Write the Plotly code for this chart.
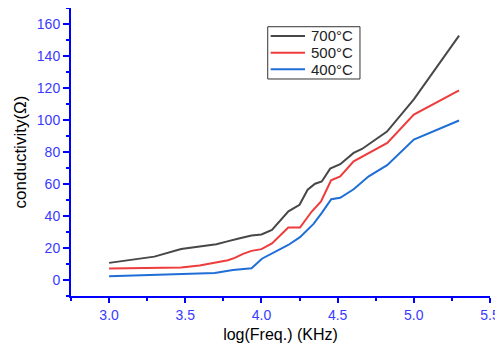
import plotly.graph_objects as go

# 700°C series
x_700 = [3.0, 3.297, 3.473, 3.594, 3.704, 3.770, 3.825, 3.858, 3.935, 4.0, 4.069, 4.177,
         4.250, 4.303, 4.352, 4.396, 4.451, 4.517, 4.605, 4.660, 4.824, 5.0, 5.297]
y_700 = [10.7, 14.6, 19.4, 20.9, 22.4, 24.0, 25.5, 26.1, 27.8, 28.5, 31.3, 42.9,
         47.0, 56.4, 60.2, 61.6, 69.6, 72.4, 79.4, 81.9, 92.8, 112.9, 152.7]

# 500°C series
x_500 = [3.0, 3.297, 3.473, 3.594, 3.704, 3.780, 3.825, 3.879, 3.935, 4.0, 4.069, 4.176,
         4.253, 4.330, 4.391, 4.457, 4.517, 4.605, 4.826, 5.0, 5.297]
y_500 = [7.2, 7.3, 7.8, 9.1, 11.0, 12.4, 13.8, 16.3, 18.2, 19.3, 22.9, 32.8,
         32.8, 42.8, 49.1, 62.3, 64.8, 74.2, 85.7, 103.4, 118.5]

# 400°C series
x_400 = [3.0, 3.297, 3.473, 3.693, 3.813, 3.935, 4.003, 4.176, 4.253, 4.342, 4.396,
         4.458, 4.517, 4.605, 4.704, 4.825, 5.0, 5.297]
y_400 = [2.4, 3.2, 3.8, 4.4, 6.3, 7.3, 13.3, 21.9, 26.8, 35.1, 42.0,
         50.5, 51.4, 56.7, 64.8, 71.8, 87.8, 99.7]

series_names = ["700°C", "500°C", "400°C"]
series_colors = ["#474747", "#ee3b3b", "#1f6ed6"]
series_x = [x_700, x_500, x_400]
series_y = [y_700, y_500, y_400]

fig = go.Figure()
for name, xs, ys, col in zip(series_names, series_x, series_y, series_colors):
    fig.add_trace(go.Scatter(x=xs, y=ys, mode="lines", name=name,
                             line=dict(color=col, width=2), showlegend=False))

axis_blue = "#0000ff"
tick_blue = "#3a3aff"
font_family = "Liberation Sans, Arial, sans-serif"

# The page body has an 8px margin, so the figure is sized to fit the window.
fig.update_layout(
    width=495, height=335,
    margin=dict(l=63, r=13, t=0, b=47, autoexpand=False),
    paper_bgcolor="white", plot_bgcolor="white",
    font=dict(family=font_family, color="black"),
    showlegend=False,
)

# Boxed legend (drawn to match the compact original)
leg_rows = [0.9028, 0.8448, 0.7872]
fig.add_shape(type="rect", xref="paper", yref="paper", x0=0.4695, x1=0.6897,
              y0=0.7535, y1=0.935, line=dict(color="#333333", width=1),
              fillcolor="white", layer="above")
for name, col, ry in zip(series_names, series_colors, leg_rows):
    fig.add_shape(type="line", xref="paper", yref="paper", x0=0.4766, x1=0.5585,
                  y0=ry, y1=ry, line=dict(color=col, width=2), layer="above")
    fig.add_annotation(text=name, xref="paper", yref="paper", x=0.5687, y=ry,
                       xanchor="left", yanchor="middle", showarrow=False,
                       font=dict(size=15, color="#222222", family=font_family))

fig.update_xaxes(
    range=[2.75, 5.5], dtick=0.5, tick0=3.0, tickformat=".1f",
    automargin=False,
    showgrid=False, zeroline=False,
    showline=True, linecolor=axis_blue, linewidth=2,
    ticks="outside", ticklen=5, tickwidth=2, tickcolor=axis_blue,
    tickfont=dict(size=14, color=tick_blue, family=font_family),
    minor=dict(ticks="outside", ticklen=3, tickwidth=2, tickcolor=axis_blue, dtick=0.25, tick0=3.0, showgrid=False),
    title=dict(text="log(Freq.) (KHz)", font=dict(size=16, color="black"), standoff=7),
)
fig.update_yaxes(
    range=[-10, 170], dtick=20, tick0=0,
    automargin=False,
    showgrid=False, zeroline=False,
    showline=True, linecolor=axis_blue, linewidth=2,
    ticks="outside", ticklen=6, tickwidth=2, tickcolor=axis_blue,
    tickfont=dict(size=14, color=tick_blue, family=font_family),
    minor=dict(ticks="outside", ticklen=3, tickwidth=2, tickcolor=axis_blue, dtick=10, tick0=0, showgrid=False),
    title=dict(text="conductivity(Ω)", font=dict(size=17, color="black"), standoff=6),
)

fig.write_html("out.html")
